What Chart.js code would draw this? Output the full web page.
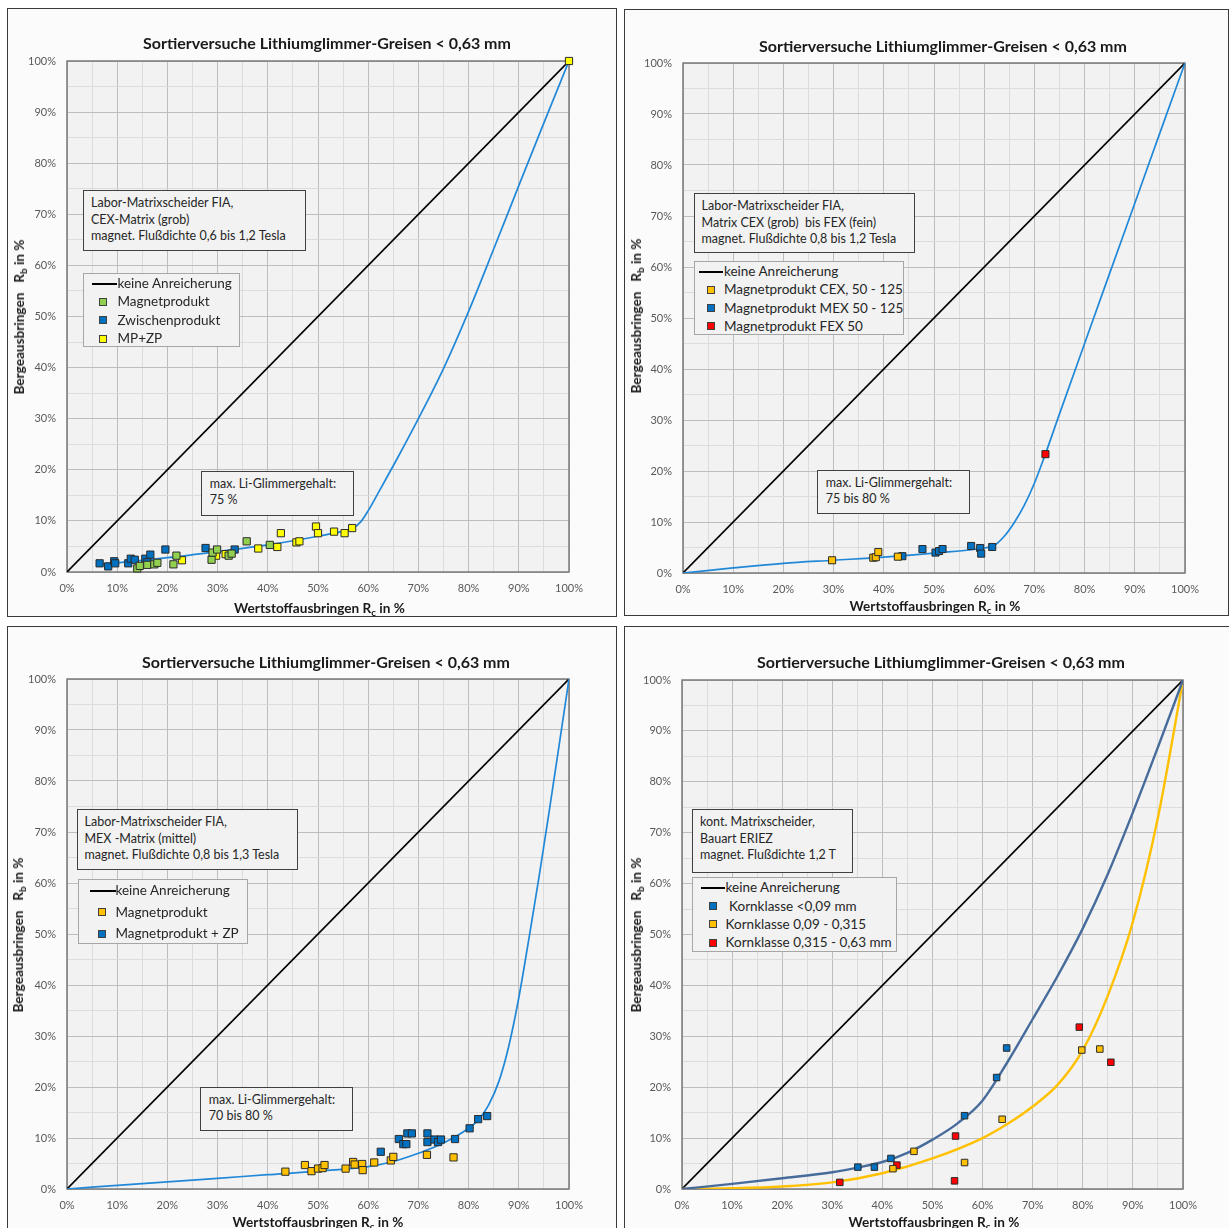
<!DOCTYPE html>
<html lang="de">
<head>
<meta charset="utf-8">
<title>Sortierversuche Lithiumglimmer-Greisen</title>
<script src="https://cdn.jsdelivr.net/npm/chart.js@4.4.1/dist/chart.umd.min.js"></script>
<style>
html,body{margin:0;padding:0;background:#fff;}
body{position:relative;width:1229px;height:1228px;overflow:hidden;font-family:Lato,"Open Sans",sans-serif;color:#262626;}
.panel{position:absolute;border:1px solid #3a3a3a;background:#fbfbfb;box-sizing:border-box;}
canvas{position:absolute;}
.ttl{position:absolute;font-weight:700;font-size:16px;line-height:18px;white-space:nowrap;transform:translate(-50%,-50%);color:#1a1a1a;}
.xt{position:absolute;font-weight:700;font-size:13.6px;line-height:16px;white-space:nowrap;transform:translate(-50%,-50%);color:#1a1a1a;}
.yt{position:absolute;font-weight:700;font-size:13.6px;line-height:16px;white-space:nowrap;transform:translate(-50%,-50%) rotate(-90deg);color:#1a1a1a;}
sub{font-size:72%;vertical-align:-0.3em;line-height:0;}
.box{position:absolute;box-sizing:border-box;background:#f2f2f2;}
.info{border:1.5px solid #404040;font-size:12.5px;line-height:16.3px;}
.info div{white-space:pre;}
.leg{border:1px solid #a6a6a6;font-size:13.5px;}
.row{position:absolute;white-space:pre;line-height:18px;}
.mk{position:absolute;width:6px;height:6px;border:1px solid #404040;}
.ln{position:absolute;height:0;border-top:2px solid #000;}
</style>
</head>
<body>
<script>
// ---- values (Rc in %, Rb in %) ----
const tickLabels = ['0%','10%','20%','30%','40%','50%','60%','70%','80%','90%','100%'];
const diagonal = [[0,0],[100,100]];

// Panel 1: CEX-Matrix
const p1Magnet = [[14.0,0.7],[14.5,1.2],[16.0,1.4],[17.4,1.5],[18.0,1.8],[21.2,1.5],[21.8,3.2],[28.8,2.4],[29.0,3.8],[29.9,4.4],[32.2,3.2],[32.8,3.6],[35.8,6.0],[40.4,5.3]];
const p1Zwischen = [[6.5,1.7],[8.2,1.1],[9.4,2.1],[9.6,1.7],[12.2,1.7],[12.7,2.6],[13.5,2.4],[15.6,2.6],[16.0,1.9],[16.6,3.4],[19.6,4.4],[27.6,4.7],[33.4,4.4]];
const p1MpZp = [[22.9,2.3],[29.7,3.2],[31.6,3.5],[38.1,4.6],[41.9,4.9],[42.6,7.6],[45.7,5.8],[46.3,6.0],[49.6,8.9],[50.0,7.6],[53.2,7.9],[55.3,7.6],[56.8,8.6],[100,100]];
const p1Trend = [[6.5,1.5],[10,1.8],[20,2.8],[30,4.0],[40,5.3],[50,7.0],[55,8.0],[57,8.6],[58.5,9.8],[60,12.0],[62,15.5],[66,22.6],[70,30],[75,39.8],[80,51],[85,63.2],[90,75.6],[95,87.9],[100,100]];

// Panel 2: CEX bis FEX
const p2Cex = [[29.7,2.5],[37.9,3.0],[38.4,3.1],[38.9,4.1],[42.8,3.2]];
const p2Mex = [[43.7,3.3],[47.7,4.7],[50.3,4.0],[51.0,4.3],[51.7,4.7],[57.4,5.3],[59.2,4.9],[59.4,3.8],[61.6,5.1]];
const p2Fex = [[72.2,23.3]];
const p2Trend = [[0,0],[10,1.0],[20,1.9],[30,2.5],[40,3.1],[50,3.9],[60,4.9],[62,5.4],[64,7.2],[66,9.9],[68,13.3],[70,17.6],[72,22.8],[75,31.2],[80,45],[85,58.8],[90,72.5],[95,86.3],[100,100]];

// Panel 3: MEX-Matrix
const p3Mag = [[43.5,3.4],[47.4,4.7],[48.7,3.5],[50.0,4.0],[50.9,4.1],[51.3,4.7],[55.5,4.0],[57.0,5.3],[57.3,4.8],[58.8,4.9],[58.9,3.7],[61.2,5.2],[64.5,5.6],[65.0,6.3],[71.7,6.7],[77.0,6.2]];
const p3MagZp = [[62.5,7.3],[66.1,9.8],[67.0,8.8],[67.6,8.8],[67.8,10.9],[68.7,10.9],[71.8,10.9],[71.8,9.2],[73.2,9.7],[73.9,9.2],[74.5,9.7],[77.3,9.8],[80.2,11.9],[81.9,13.7],[83.7,14.3]];
const p3Trend = [[0,0],[10,0.7],[20,1.4],[30,2.1],[40,2.8],[50,3.5],[60,4.4],[65,5.4],[70,7.0],[75,9.0],[80,11.9],[82,13.6],[84,16.5],[86,21],[88,28],[90,37.5],[92,49],[94,61],[96,73.7],[98,86.8],[100,100]];

// Panel 4: ERIEZ
const p4Fine = [[35.1,4.3],[38.4,4.3],[41.7,6.0],[56.4,14.4],[62.8,21.9],[64.8,27.7]];
const p4Mid = [[42.1,4.0],[46.3,7.4],[56.4,5.2],[63.9,13.7],[79.8,27.3],[83.4,27.5]];
const p4Coarse = [[31.5,1.3],[42.9,4.7],[54.4,1.6],[54.6,10.4],[79.3,31.8],[85.6,24.9]];
const p4TrendFine = [[0,0],[10,1.0],[20,2.1],[30,3.3],[35,4.2],[40,5.3],[45,7.1],[50,9.7],[55,12.9],[60,17.4],[65,25],[70,33.4],[75,41.9],[80,51.2],[85,61.9],[90,74],[95,86.8],[100,100]];
const p4TrendMid = [[0,0],[10,0.15],[20,0.5],[30,1.3],[40,3.1],[50,6.0],[60,10.0],[65,12.8],[70,16.2],[75,20.5],[80,27.3],[85,38],[90,52.5],[95,73],[100,100]];

// ---- colours ----
const C = {green:'#92d050', blue:'#0070c0', yellow:'#ffff00', orange:'#ffc000', red:'#ff0000',
           trend:'#2188d8', steel:'#476c9b', gold:'#ffc000', black:'#000000'};

const toXY = a => a.map(([x, y]) => ({x, y}));
const pts = (label, data, color, r) => ({label, data: toXY(data), backgroundColor: color, borderColor: '#2b2b2b',
  borderWidth: 1, pointStyle: 'rect', pointRadius: r, pointHoverRadius: r, showLine: false, clip: false, order: 0});
const curve = (label, data, color, w, order) => ({label, data: toXY(data), borderColor: color, backgroundColor: color,
  borderWidth: w, pointRadius: 0, pointHoverRadius: 0, showLine: true, fill: false,
  cubicInterpolationMode: 'monotone', order: order});

const panels = [
  { frame:[7,8,610,609], area:[67,61,502,511], title:[327,43], xTitle:[319.5,607.5], yTitle:[19,317],
    info:{rect:[83,190,223,61], pad:[8.5,4.4], lines:['Labor-Matrixscheider FIA,','CEX-Matrix (grob)','magnet. Flußdichte 0,6 bis 1,2 Tesla']},
    legend:{rect:[83,273,157,74], first:9.5, step:18.4, lineX:[90.5,116.3], markX:102.4, textX:117.5,
      items:[['line','keine Anreicherung'],[C.green,'Magnetprodukt'],[C.blue,'Zwischenprodukt'],[C.yellow,'MP+ZP']]},
    note:{rect:[201,471,153,45], pad:[9.3,4.2], lines:['max. Li-Glimmergehalt:','75 %']},
    datasets:[pts('Magnetprodukt',p1Magnet,C.green,5.1), pts('Zwischenprodukt',p1Zwischen,C.blue,5.1), pts('MP+ZP',p1MpZp,C.yellow,5.1),
      curve('Trend',p1Trend,C.trend,1.7,1), curve('keine Anreicherung',diagonal,C.black,1.6,2)] },
  { frame:[624,9,605,607], area:[683,63,502,510], title:[943,45.5], xTitle:[935,606], yTitle:[636,316],
    info:{rect:[694,193,221,60], pad:[8,4.4], lines:['Labor-Matrixscheider FIA,','Matrix CEX (grob)  bis FEX (fein)','magnet. Flußdichte 0,8 bis 1,2 Tesla']},
    legend:{rect:[694,261,210,74], first:9.5, step:18.3, lineX:[697.7,721.7], markX:709.7, textX:724,
      items:[['line','keine Anreicherung'],[C.orange,'Magnetprodukt CEX, 50 - 125'],[C.blue,'Magnetprodukt MEX 50 - 125'],[C.red,'Magnetprodukt FEX 50']]},
    note:{rect:[817,470,153,44], pad:[9.3,3.6], lines:['max. Li-Glimmergehalt:','75 bis 80 %']},
    datasets:[pts('Magnetprodukt CEX, 50 - 125',p2Cex,C.orange,5.0), pts('Magnetprodukt MEX 50 - 125',p2Mex,C.blue,5.0), pts('Magnetprodukt FEX 50',p2Fex,C.red,5.0),
      curve('Trend',p2Trend,C.trend,1.7,1), curve('keine Anreicherung',diagonal,C.black,1.6,2)] },
  { frame:[7,626,610,620], area:[67,679,502,510], title:[326,661.5], xTitle:[318,1222], yTitle:[18,935],
    info:{rect:[77,809,221,61], pad:[8,4.4], lines:['Labor-Matrixscheider FIA,','MEX -Matrix (mittel)','magnet. Flußdichte 0,8 bis 1,3 Tesla']},
    legend:{rect:[78,879,170,65], first:10.5, step:21.7, lineX:[89,114.7], markX:101.2, textX:115.5,
      items:[['line','keine Anreicherung'],[C.orange,'Magnetprodukt'],[C.blue,'Magnetprodukt + ZP']]},
    note:{rect:[200,1087,153,44], pad:[9.3,3.7], lines:['max. Li-Glimmergehalt:','70 bis 80 %']},
    datasets:[pts('Magnetprodukt',p3Mag,C.orange,5.1), pts('Magnetprodukt + ZP',p3MagZp,C.blue,5.1),
      curve('Trend',p3Trend,C.trend,1.7,1), curve('keine Anreicherung',diagonal,C.black,1.6,2)] },
  { frame:[624,626,620,620], area:[682,680,501,509], title:[941,661.5], xTitle:[934,1222], yTitle:[635.5,935],
    info:{rect:[692,809,161,64], pad:[8.5,4.4], lines:['kont. Matrixscheider,','Bauart ERIEZ','magnet. Flußdichte 1,2 T']},
    legend:{rect:[692,877,205,75], first:9.8, step:18.3, lineX:[699.6,724], markX:711.6, textX:725.6,
      items:[['line','keine Anreicherung'],[C.blue,' Kornklasse <0,09 mm'],[C.orange,'Kornklasse 0,09 - 0,315'],[C.red,'Kornklasse 0,315 - 0,63 mm']]},
    note:null,
    datasets:[pts('Kornklasse <0,09 mm',p4Fine,C.blue,4.6), pts('Kornklasse 0,09 - 0,315',p4Mid,C.orange,4.6), pts('Kornklasse 0,315 - 0,63 mm',p4Coarse,C.red,4.6),
      curve('Trend <0,09 mm',p4TrendFine,C.steel,2.4,1), curve('Trend 0,09 - 0,315',p4TrendMid,C.gold,2.4,1), curve('keine Anreicherung',diagonal,C.black,1.6,2)] }
];

// plot-area background and frame
const plotFrame = {
  id: 'plotFrame',
  beforeDraw(chart) {
    const {ctx, chartArea: a} = chart;
    ctx.save(); ctx.fillStyle = '#f2f2f2'; ctx.fillRect(a.left, a.top, a.width, a.height); ctx.restore();
  },
  beforeDatasetsDraw(chart) {
    const {ctx, chartArea: a} = chart;
    ctx.save(); ctx.strokeStyle = '#7a7a7a'; ctx.lineWidth = 1.5;
    ctx.strokeRect(a.left, a.top, a.width, a.height); ctx.restore();
  }
};

const M = {l: 60, t: 50, r: 30, b: 34};

function el(tag, cls, style, parent) {
  const e = document.createElement(tag);
  if (cls) e.className = cls;
  Object.assign(e.style, style || {});
  (parent || document.body).appendChild(e);
  return e;
}
const px = v => v + 'px';

function axis(isX) {
  return {
    type: 'linear', min: 0, max: 100,
    ticks: {stepSize: 5, autoSkip: false, maxRotation: 0, color: '#595959', padding: isX ? 10 : 11,
            font: {family: 'Lato', size: 11}, callback: v => (v % 10 === 0 ? tickLabels[v / 10] : '')},
    grid: {color: c => (c.tick && c.tick.value % 10 === 0 ? '#bdbdbd' : '#dcdcdc'), lineWidth: 1, drawTicks: false},
    border: {display: false},
    afterFit: s => { if (isX) s.height = M.b; else s.width = M.l; }
  };
}

panels.forEach(p => {
  const [fx, fy, fw, fh] = p.frame;
  el('div', 'panel', {left: px(fx), top: px(fy), width: px(fw), height: px(fh)});

  const [ax, ay, aw, ah] = p.area;
  const cv = el('canvas', null, {left: px(ax - M.l), top: px(ay - M.t), width: px(aw + M.l + M.r), height: px(ah + M.t + M.b)});
  cv.width = aw + M.l + M.r; cv.height = ah + M.t + M.b;

  new Chart(cv, {
    type: 'scatter',
    data: {datasets: p.datasets},
    options: {
      responsive: false, animation: false, devicePixelRatio: 1,
      layout: {padding: {left: 0, top: M.t, right: M.r, bottom: 0}},
      plugins: {legend: {display: false}, tooltip: {enabled: false}},
      scales: {x: axis(true), y: axis(false)}
    },
    plugins: [plotFrame]
  });

  const t = el('div', 'ttl', {left: px(p.title[0]), top: px(p.title[1])});
  t.textContent = 'Sortierversuche Lithiumglimmer-Greisen < 0,63 mm';
  const xt = el('div', 'xt', {left: px(p.xTitle[0]), top: px(p.xTitle[1])});
  xt.innerHTML = 'Wertstoffausbringen R<sub>c</sub> in %';
  const yt = el('div', 'yt', {left: px(p.yTitle[0]), top: px(p.yTitle[1])});
  yt.innerHTML = 'Bergeausbringen&nbsp;&nbsp; R<sub>b</sub> in %';

  [p.info, p.note].forEach(b => {
    if (!b) return;
    const [bx, by, bw, bh] = b.rect;
    const d = el('div', 'box info', {left: px(bx), top: px(by), width: px(bw), height: px(bh),
      paddingLeft: px(b.pad[0] - 1.5), paddingTop: px(b.pad[1])});
    b.lines.forEach(s => { const l = el('div', null, {}, d); l.textContent = s; });
  });

  const L = p.legend;
  const [lx, ly, lw, lh] = L.rect;
  const lg = el('div', 'box leg', {left: px(lx), top: px(ly), width: px(lw), height: px(lh)});
  L.items.forEach(([kind, text], i) => {
    const cy = L.first + i * L.step;
    if (kind === 'line') {
      el('div', 'ln', {left: px(L.lineX[0] - lx), width: px(L.lineX[1] - L.lineX[0]), top: px(cy - 1)}, lg);
    } else {
      el('div', 'mk', {left: px(L.markX - lx - 4), top: px(cy - 4), background: kind}, lg);
    }
    const r = el('div', 'row', {left: px(L.textX - lx - 1), top: px(cy - 9.5)}, lg);
    r.textContent = text;
  });
});
</script>
</body>
</html>
